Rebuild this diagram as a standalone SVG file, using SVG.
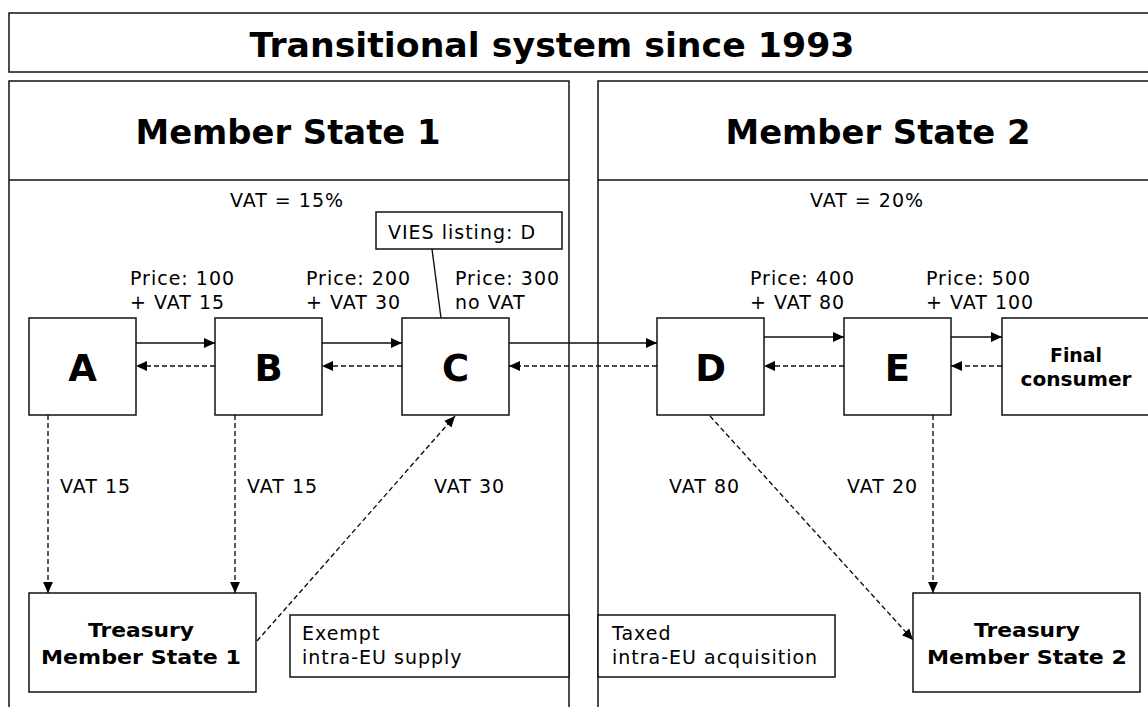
<svg xmlns="http://www.w3.org/2000/svg" width="1148" height="707" viewBox="0 0 1148 707">
<style>
.box{fill:#fff;stroke:#111;stroke-width:1.5}
.ln{fill:none;stroke:#111;stroke-width:1.4}
.sol{fill:none;stroke:#111;stroke-width:1.4}
.dash{fill:none;stroke:#111;stroke-width:1.4;stroke-dasharray:5 3}
.t{font-family:"DejaVu Sans",Verdana,sans-serif;font-size:19px;letter-spacing:1px;fill:#000}
.b{font-family:"DejaVu Sans",Verdana,sans-serif;font-weight:bold;fill:#000}
.big{font-size:37px}
.tb{font-size:19px}
</style>
<defs>
<marker id="ah" viewBox="0 0 10 10" refX="10" refY="5" markerWidth="11" markerHeight="11" markerUnits="userSpaceOnUse" orient="auto">
<path d="M0,0.5 L10,5 L0,9.5 Z" fill="#000"/>
</marker>
</defs>
<rect width="1148" height="707" fill="#fff"/>
<g id="title">
<rect class="box" x="9" y="13" width="1150" height="59"/>
<text class="b" x="552" y="57" font-size="34" text-anchor="middle" textLength="605" lengthAdjust="spacingAndGlyphs">Transitional system since 1993</text>
</g>
<g id="ms1">
<rect class="box" x="9" y="81" width="560" height="640"/>
<line class="ln" x1="9" y1="180" x2="569" y2="180"/>
<text class="b" x="288" y="144" font-size="33" text-anchor="middle" textLength="305" lengthAdjust="spacingAndGlyphs">Member State 1</text>
<text class="t" x="287" y="207" text-anchor="middle">VAT = 15%</text>
</g>
<g id="ms2">
<rect class="box" x="598" y="81" width="560" height="640"/>
<line class="ln" x1="598" y1="180" x2="1158" y2="180"/>
<text class="b" x="878" y="144" font-size="33" text-anchor="middle" textLength="305" lengthAdjust="spacingAndGlyphs">Member State 2</text>
<text class="t" x="867" y="207" text-anchor="middle">VAT = 20%</text>
</g>
<g id="vies">
<rect class="box" x="376" y="212" width="186" height="37"/>
<text class="t" x="388" y="239">VIES listing: D</text>
<line class="ln" x1="432" y1="249" x2="441" y2="318"/>
</g>
<g id="nodeA"><rect class="box" x="29" y="318" width="107" height="97"/><text class="b big" x="82.5" y="381" text-anchor="middle">A</text></g>
<g id="nodeB"><rect class="box" x="215" y="318" width="107" height="97"/><text class="b big" x="268.5" y="381" text-anchor="middle">B</text></g>
<g id="nodeC"><rect class="box" x="402" y="318" width="107" height="97"/><text class="b big" x="455.5" y="381" text-anchor="middle">C</text></g>
<g id="nodeD"><rect class="box" x="657" y="318" width="107" height="97"/><text class="b big" x="710.5" y="381" text-anchor="middle">D</text></g>
<g id="nodeE"><rect class="box" x="844" y="318" width="107" height="97"/><text class="b big" x="897.5" y="381" text-anchor="middle">E</text></g>
<g id="consumer"><rect class="box" x="1002" y="318" width="160" height="97"/>
<text class="b tb" x="1076" y="362" text-anchor="middle" textLength="52" lengthAdjust="spacingAndGlyphs">Final</text>
<text class="b tb" x="1076" y="386" text-anchor="middle" textLength="111" lengthAdjust="spacingAndGlyphs">consumer</text></g>
<g id="treasury1"><rect class="box" x="29" y="593" width="227" height="99"/>
<text class="b tb" x="141" y="637" text-anchor="middle" textLength="106" lengthAdjust="spacingAndGlyphs">Treasury</text>
<text class="b tb" x="141" y="664" text-anchor="middle" textLength="200" lengthAdjust="spacingAndGlyphs">Member  State 1</text></g>
<g id="treasury2"><rect class="box" x="913" y="593" width="227" height="99"/>
<text class="b tb" x="1027" y="637" text-anchor="middle" textLength="106" lengthAdjust="spacingAndGlyphs">Treasury</text>
<text class="b tb" x="1027" y="664" text-anchor="middle" textLength="200" lengthAdjust="spacingAndGlyphs">Member  State 2</text></g>
<g id="exempt"><rect class="box" x="290" y="615" width="279" height="62"/>
<text class="t" x="302" y="640">Exempt</text><text class="t" x="302" y="664">intra-EU supply</text></g>
<g id="taxed"><rect class="box" x="598" y="615" width="237" height="62"/>
<text class="t" x="612" y="640">Taxed</text><text class="t" x="612" y="664">intra-EU acquisition</text></g>
<g id="connectors">
<line class="sol" x1="136" y1="343" x2="215" y2="343" marker-end="url(#ah)"/>
<line class="sol" x1="322" y1="343" x2="402" y2="343" marker-end="url(#ah)"/>
<line class="sol" x1="509" y1="343" x2="657" y2="343" marker-end="url(#ah)"/>
<line class="sol" x1="764" y1="337" x2="844" y2="337" marker-end="url(#ah)"/>
<line class="sol" x1="951" y1="337" x2="1002" y2="337" marker-end="url(#ah)"/>
<line class="dash" x1="215" y1="366" x2="136" y2="366" marker-end="url(#ah)"/>
<line class="dash" x1="402" y1="366" x2="322" y2="366" marker-end="url(#ah)"/>
<line class="dash" x1="657" y1="366" x2="509" y2="366" marker-end="url(#ah)"/>
<line class="dash" x1="844" y1="366" x2="764" y2="366" marker-end="url(#ah)"/>
<line class="dash" x1="1002" y1="366" x2="951" y2="366" marker-end="url(#ah)"/>
<line class="dash" x1="48" y1="415" x2="48" y2="593" marker-end="url(#ah)"/>
<line class="dash" x1="235" y1="415" x2="235" y2="593" marker-end="url(#ah)"/>
<line class="dash" x1="257" y1="641" x2="455" y2="416" marker-end="url(#ah)"/>
<line class="dash" x1="710" y1="416" x2="913" y2="640" marker-end="url(#ah)"/>
<line class="dash" x1="933" y1="415" x2="933" y2="593" marker-end="url(#ah)"/>
</g>
<g id="labels">
<text class="t" x="130" y="285">Price: 100</text><text class="t" x="130" y="309">+ VAT 15</text>
<text class="t" x="306" y="285">Price: 200</text><text class="t" x="306" y="309">+ VAT 30</text>
<text class="t" x="455" y="285">Price: 300</text><text class="t" x="455" y="309">no VAT</text>
<text class="t" x="750" y="285">Price: 400</text><text class="t" x="750" y="309">+ VAT 80</text>
<text class="t" x="926" y="285">Price: 500</text><text class="t" x="926" y="309">+ VAT 100</text>
<text class="t" x="60" y="493">VAT 15</text>
<text class="t" x="247" y="493">VAT 15</text>
<text class="t" x="434" y="493">VAT 30</text>
<text class="t" x="669" y="493">VAT 80</text>
<text class="t" x="847" y="493">VAT 20</text>
</g>
</svg>
